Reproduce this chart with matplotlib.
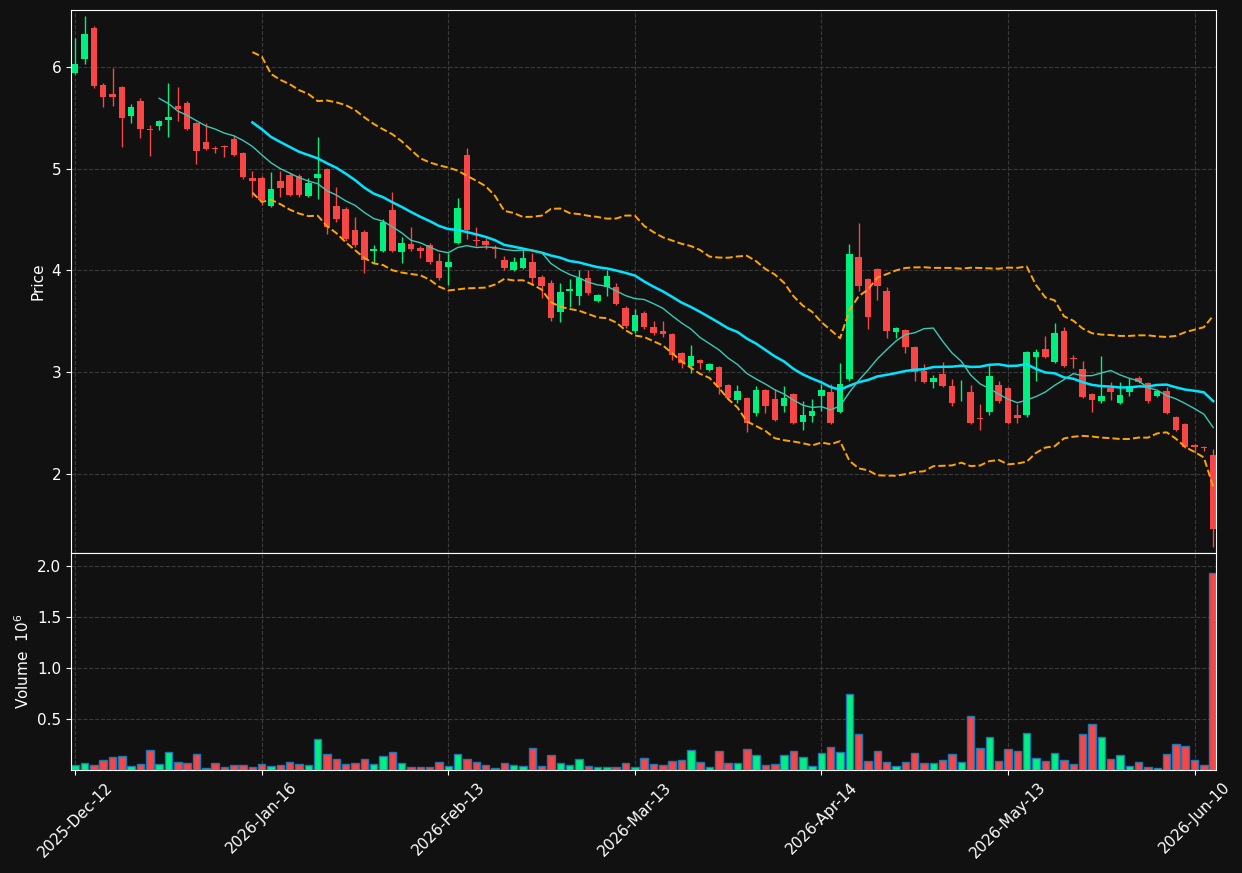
import numpy as np
import pandas as pd
import matplotlib
matplotlib.use("Agg")
import matplotlib.pyplot as plt

# OHLC per bar
opens = [5.94, 6.08, 6.38, 5.82, 5.73, 5.80, 5.52, 5.67, 5.39, 5.42, 5.48, 5.62, 5.65, 5.45, 5.26, 5.20, 5.22, 5.29, 5.15, 4.91,
         4.91, 4.63, 4.88, 4.94, 4.93, 4.73, 4.91, 5.00, 4.63, 4.60, 4.40, 4.38, 4.19, 4.19, 4.59, 4.18, 4.26, 4.22, 4.25, 4.09,
         4.03, 4.27, 5.13, 4.30, 4.29, 4.22, 4.10, 4.00, 4.02, 4.08, 3.93, 3.88, 3.59, 3.80, 3.75, 3.92, 3.70, 3.84, 3.84, 3.63,
         3.40, 3.58, 3.44, 3.40, 3.37, 3.19, 3.06, 3.12, 3.02, 3.05, 2.87, 2.72, 2.74, 2.60, 2.82, 2.73, 2.67, 2.78, 2.51, 2.57,
         2.76, 2.80, 2.61, 2.93, 4.13, 3.91, 4.01, 3.80, 3.39, 3.41, 3.25, 3.01, 2.90, 2.98, 2.86, 2.72, 2.80, 2.55, 2.61, 2.87,
         2.84, 2.58, 2.58, 3.15, 3.23, 3.10, 3.40, 3.14, 3.03, 2.78, 2.71, 2.84, 2.70, 2.80, 2.94, 2.89, 2.76, 2.81, 2.56, 2.49,
         2.28, 2.26, 2.18]
closes = [6.03, 6.32, 5.81, 5.70, 5.70, 5.50, 5.61, 5.39, 5.38, 5.47, 5.51, 5.59, 5.39, 5.17, 5.19, 5.19, 5.21, 5.13, 4.92, 4.88,
          4.69, 4.80, 4.81, 4.74, 4.74, 4.86, 4.95, 4.43, 4.50, 4.31, 4.25, 4.10, 4.21, 4.48, 4.19, 4.27, 4.21, 4.19, 4.08, 3.92,
          4.08, 4.61, 4.40, 4.29, 4.25, 4.21, 4.02, 4.08, 4.12, 3.92, 3.85, 3.53, 3.79, 3.82, 3.92, 3.78, 3.76, 3.94, 3.67, 3.45,
          3.56, 3.44, 3.38, 3.37, 3.17, 3.09, 3.16, 3.09, 3.08, 2.85, 2.74, 2.81, 2.50, 2.82, 2.67, 2.53, 2.74, 2.50, 2.58, 2.62,
          2.82, 2.50, 2.88, 4.16, 3.85, 3.54, 3.85, 3.40, 3.43, 3.25, 3.00, 2.90, 2.94, 2.86, 2.70, 2.72, 2.50, 2.54, 2.96, 2.71,
          2.50, 2.55, 3.20, 3.20, 3.15, 3.38, 3.06, 3.13, 2.75, 2.72, 2.76, 2.80, 2.77, 2.86, 2.90, 2.71, 2.81, 2.60, 2.43, 2.26,
          2.26, 2.25, 1.46]
highs = [6.28, 6.50, 6.40, 5.84, 5.99, 5.81, 5.64, 5.69, 5.43, 5.48, 5.84, 5.80, 5.67, 5.46, 5.45, 5.22, 5.23, 5.33, 5.16, 4.98,
         4.93, 4.97, 4.98, 4.96, 4.95, 4.91, 5.31, 5.01, 4.82, 4.62, 4.52, 4.40, 4.25, 4.50, 4.77, 4.33, 4.43, 4.24, 4.27, 4.17,
         4.17, 4.71, 5.20, 4.43, 4.32, 4.25, 4.14, 4.13, 4.20, 4.17, 3.95, 3.90, 3.88, 3.91, 4.00, 4.00, 3.77, 4.00, 3.88, 3.65,
         3.62, 3.60, 3.50, 3.50, 3.38, 3.20, 3.27, 3.13, 3.09, 3.06, 2.88, 2.87, 2.75, 2.86, 2.83, 2.83, 2.86, 2.79, 2.71, 2.73,
         2.88, 2.88, 3.09, 4.26, 4.47, 3.92, 4.02, 3.84, 3.44, 3.42, 3.26, 3.08, 2.97, 3.10, 2.93, 2.92, 2.87, 2.69, 3.08, 2.91,
         2.85, 2.69, 3.21, 3.23, 3.35, 3.48, 3.44, 3.17, 3.11, 2.79, 3.16, 2.90, 2.90, 2.94, 2.96, 2.90, 2.82, 2.85, 2.57, 2.50,
         2.29, 2.27, 2.24]
lows = [5.93, 6.03, 5.79, 5.61, 5.62, 5.21, 5.45, 5.30, 5.12, 5.38, 5.31, 5.47, 5.38, 5.05, 5.18, 5.15, 5.11, 5.12, 4.90, 4.72,
        4.64, 4.62, 4.72, 4.73, 4.72, 4.72, 4.70, 4.36, 4.48, 4.29, 4.23, 3.97, 4.07, 4.18, 4.18, 4.07, 4.19, 4.12, 4.06, 3.90,
        3.86, 4.26, 4.31, 4.24, 4.21, 4.12, 4.00, 3.99, 4.01, 3.86, 3.73, 3.50, 3.49, 3.64, 3.66, 3.76, 3.69, 3.75, 3.66, 3.43,
        3.38, 3.42, 3.36, 3.34, 3.12, 3.04, 2.99, 3.03, 3.01, 2.78, 2.72, 2.70, 2.41, 2.57, 2.60, 2.52, 2.61, 2.49, 2.43, 2.51,
        2.62, 2.49, 2.60, 2.91, 3.80, 3.42, 3.71, 3.33, 3.33, 3.19, 2.91, 2.89, 2.84, 2.85, 2.67, 2.71, 2.49, 2.43, 2.58, 2.70,
        2.49, 2.50, 2.56, 2.91, 3.14, 3.09, 3.05, 3.04, 2.74, 2.61, 2.70, 2.72, 2.69, 2.76, 2.89, 2.70, 2.75, 2.59, 2.42, 2.25,
        2.20, 2.22, 1.28]
volumes = [0.046, 0.065, 0.046, 0.095, 0.124, 0.134, 0.042, 0.056, 0.193, 0.056, 0.173, 0.075, 0.065, 0.154, 0.016, 0.065,
           0.026, 0.046, 0.046, 0.026, 0.056, 0.036, 0.046, 0.075, 0.056, 0.046, 0.300, 0.154, 0.105, 0.056, 0.065, 0.105,
           0.056, 0.134, 0.173, 0.065, 0.026, 0.026, 0.026, 0.075, 0.036, 0.154, 0.105, 0.075, 0.046, 0.016, 0.065, 0.046,
           0.036, 0.212, 0.036, 0.144, 0.065, 0.046, 0.105, 0.036, 0.026, 0.026, 0.026, 0.065, 0.026, 0.114, 0.056, 0.046,
           0.085, 0.095, 0.193, 0.075, 0.026, 0.183, 0.065, 0.065, 0.203, 0.144, 0.046, 0.056, 0.144, 0.183, 0.124, 0.036,
           0.163, 0.222, 0.173, 0.742, 0.350, 0.085, 0.183, 0.075, 0.042, 0.075, 0.163, 0.065, 0.065, 0.095, 0.154, 0.075,
           0.526, 0.212, 0.320, 0.085, 0.203, 0.183, 0.360, 0.114, 0.085, 0.163, 0.095, 0.056, 0.350, 0.448, 0.320, 0.105,
           0.144, 0.042, 0.075, 0.026, 0.016, 0.154, 0.260, 0.232, 0.095, 0.046, 1.930]
tick_labels = ["2025-Dec-12", "2026-Jan-16", "2026-Feb-13", "2026-Mar-13", "2026-Apr-14", "2026-May-13", "2026-Jun-10"]
tick_bars = [0, 20, 40, 60, 80, 100, 120]

BG = "#111111"
UP, DOWN = "#00f080", "#f84545"

o, h, l, c = map(np.array, (opens, highs, lows, closes))
v = np.array(volumes)
x = np.arange(len(c))
up = c >= o
cols = np.where(up, UP, DOWN)

s = pd.Series(c)
ma10 = s.rolling(10).mean()
ma20 = s.rolling(20).mean()
sd20 = s.rolling(20).std(ddof=0)

fig = plt.figure(figsize=(12.42, 8.73), dpi=100, facecolor=BG)
ax = fig.add_axes([71/1242, 1-553/873, 1145/1242, 543/873], facecolor=BG)
axv = fig.add_axes([71/1242, 1-770/873, 1145/1242, 217/873], facecolor=BG, sharex=ax)

ax.vlines(x, l, h, colors=cols, linewidth=1)
ax.bar(x, np.maximum(np.abs(c - o), 0.008), bottom=np.minimum(o, c), width=0.7, color=cols)
ax.plot(x, ma20, color="#00e5ff", lw=1.8)
ax.plot(x, ma10, color="#3cc8b4", lw=1)
ax.plot(x, ma20 + 2*sd20, color="#ffa500", lw=1.4, ls="--")
ax.plot(x, ma20 - 2*sd20, color="#ffa500", lw=1.4, ls="--")
ax.set_ylim(1.22, 6.56)
ax.set_yticks([2, 3, 4, 5, 6])
ax.set_ylabel("Price", color="white", fontsize=11)

axv.bar(x, v, width=0.8, color=cols, edgecolor="#1f77b4", linewidth=1)
axv.set_ylim(0, 2.13)
axv.set_yticks([0.5, 1.0, 1.5, 2.0])
axv.set_ylabel("Volume  $10^6$", color="white", fontsize=11)

ax.set_xlim(-0.45, 122.3)
axv.set_xticks(tick_bars)
axv.set_xticklabels(tick_labels, rotation=45)
plt.setp(ax.get_xticklabels(), visible=False)

for a in (ax, axv):
    a.grid(True, color="#3a3a3a", ls="--", lw=0.8)
    a.set_axisbelow(True)
    for sp in a.spines.values():
        sp.set_color("white")
    a.tick_params(colors="white", labelsize=11)

fig.savefig("out.png", dpi=100, facecolor=BG)
